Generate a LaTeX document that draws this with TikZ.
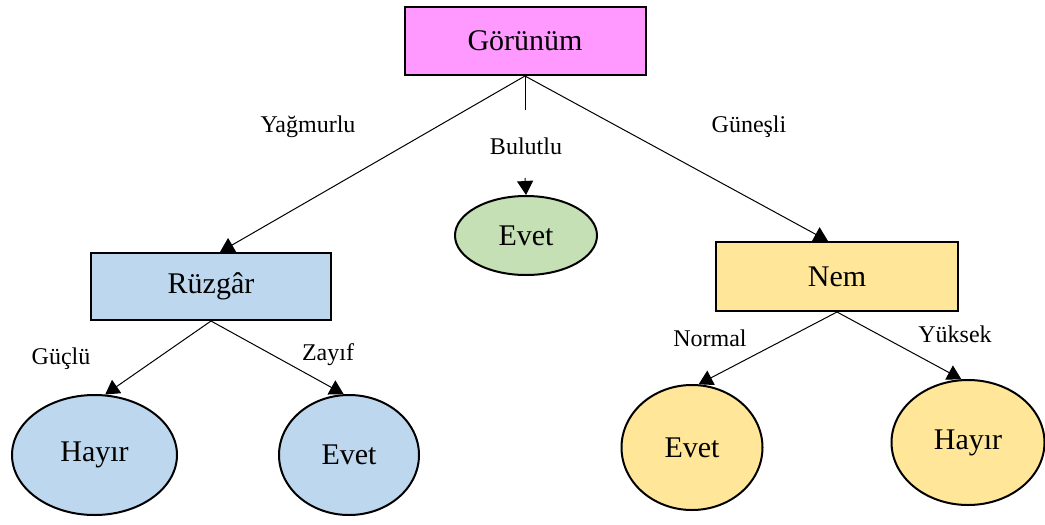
\documentclass[tikz,border=0pt]{standalone}
\usepackage{fontspec}
\setmainfont{Liberation Serif}
\usetikzlibrary{shapes.geometric,arrows.meta}
\definecolor{rootpink}{HTML}{FF99FF}
\definecolor{windblue}{HTML}{BDD7EE}
\definecolor{humyellow}{HTML}{FFE699}
\definecolor{leafgreen}{HTML}{C5E0B4}
\begin{document}
\begin{tikzpicture}[x=0.5pt,y=-0.5pt,
  boxnode/.style={draw, rectangle, line width=1pt, inner sep=0pt,
    font=\fontsize{15}{18}\selectfont},
  leaf/.style={draw, ellipse, line width=1pt, inner sep=0pt,
    font=\fontsize{15}{18}\selectfont},
  edge/.style={line width=0.5pt, -{Triangle[width=8pt,length=7pt]}},
  plain/.style={line width=0.5pt},
  lbl/.style={font=\fontsize{12}{14}\selectfont, inner sep=0pt}]
  \useasboundingbox[fill=white] (0,0) rectangle (1045,525);

  % decision boxes
  \node[boxnode, fill=rootpink, minimum width=120.5pt, minimum height=34pt] (g) at (525,41) {Görünüm};
  \node[boxnode, fill=windblue, minimum width=120pt, minimum height=33.5pt] (r) at (211,286.5) {Rüzgâr};
  \node[boxnode, fill=humyellow, minimum width=121pt, minimum height=34.5pt] (n) at (837,276.5) {Nem};

  % leaves
  \node[leaf, fill=leafgreen, minimum width=71pt, minimum height=39.5pt] (e0) at (526,235.5) {Evet};
  \node[leaf, fill=windblue, minimum width=82.5pt, minimum height=60pt] (h1) at (94.5,455) {Hayır};
  \node[leaf, fill=windblue, minimum width=70pt, minimum height=60pt] (e1) at (349,455) {Evet};
  \node[leaf, fill=humyellow, minimum width=70.5pt, minimum height=62.5pt] (e2) at (692,447.5) {Evet};
  \node[leaf, fill=humyellow, minimum width=76.5pt, minimum height=62.5pt] (h2) at (968,442.5) {Hayır};

  % connectors
  \coordinate (bu1) at (525,110);
  \coordinate (bu2) at (525,178);
  \draw[edge] (g.south) -- ([xshift=4.5pt]r.north);
  \draw[plain] (g.south) -- (bu1);
  \draw[edge] (bu2) -- (e0.north);
  \draw[edge] (g.south) -- ([xshift=-4.5pt]n.north);
  \draw[edge] (r.south) -- (h1.80);
  \draw[edge] (r.south) -- (e1.95);
  \draw[edge] (n.south) -- (e2.84);
  \draw[edge] (n.south) -- (h2.96);

  % branch labels
  \node[lbl] (l1) at (308,127) {Yağmurlu};
  \node[lbl] (l2) at (526,146) {Bulutlu};
  \node[lbl] (l3) at (749,127) {Güneşli};
  \node[lbl] (l4) at (61,359) {Güçlü};
  \node[lbl] (l5) at (328,355) {Zayıf};
  \node[lbl] (l6) at (710,338) {Normal};
  \node[lbl] (l7) at (955,334) {Yüksek};
\end{tikzpicture}
\end{document}
